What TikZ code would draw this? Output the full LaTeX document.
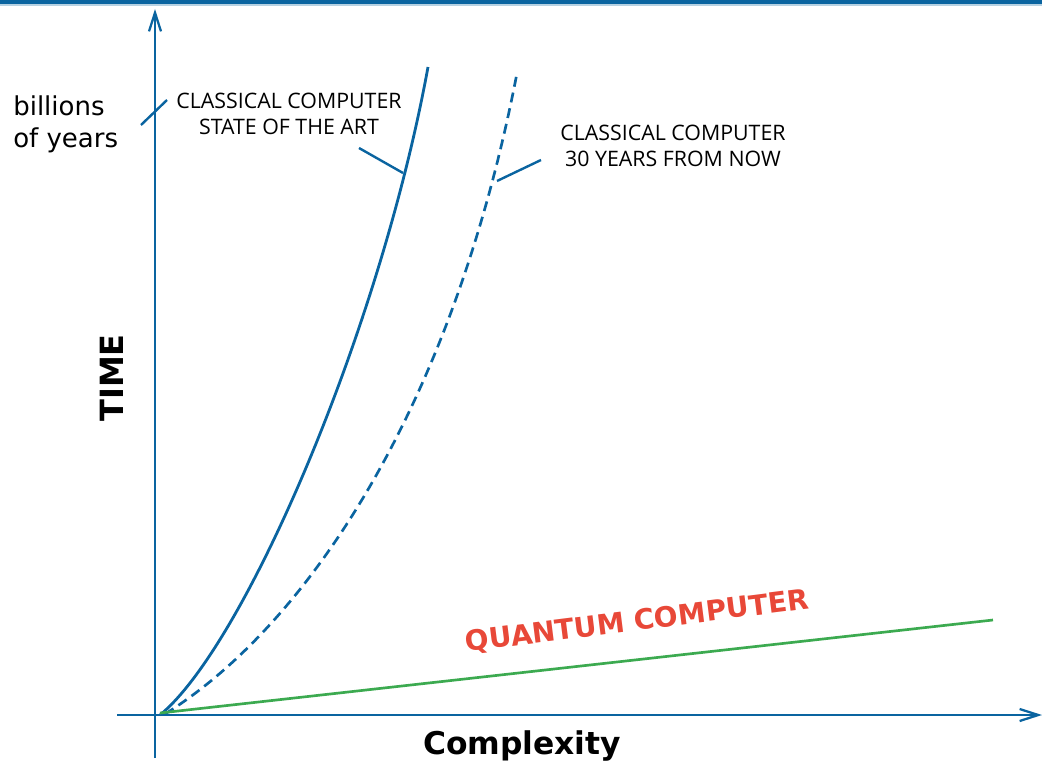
\documentclass[tikz,border=0pt]{standalone}
\usepackage{fontspec}
\setmainfont{DejaVu Sans}
\newfontfamily\labelfont{Open Sans}
\usetikzlibrary{arrows.meta}
\definecolor{axisblue}{RGB}{10,100,160}
\definecolor{qgreen}{RGB}{60,170,80}
\definecolor{qred}{RGB}{232,72,56}
\tikzset{
  axis/.style={draw=axisblue, line width=2pt, -{Straight Barb[length=14pt,width=9pt,line width=1.7pt]}},
  curve/.style={draw=axisblue, line width=2.1pt},
  leader/.style={draw=axisblue, line width=1.8pt},
  smalllabel/.style={font=\labelfont\fontsize{16}{19.5}\selectfont, align=center, text=black, inner sep=0pt},
}
\begin{document}
\begin{tikzpicture}[x=0.75pt,y=-0.75pt]
\useasboundingbox (0,0) rectangle (1042,763);
% top rule
\draw[axisblue, line width=2.6pt] (0,2) -- (1042,2);
\draw[axisblue!30, line width=0.8pt] (0,5) -- (1042,5);
% axes
\coordinate (ybot) at (155,758);
\coordinate (ytop) at (155,9);
\coordinate (xl) at (117,715);
\coordinate (xr) at (1042,715);
\draw[axis] (ybot) -- (ytop);
\draw[axis] (xl) -- (xr);
% curves
\coordinate (o1) at (160,715);
\coordinate (s1) at (428,67);
\coordinate (o2) at (165,714);
\coordinate (s2) at (517,73);
\coordinate (o3) at (160,713);
\coordinate (g1) at (993,620);
\draw[curve] (o1) .. controls (245,645) and (380,330) .. (s1);
\draw[curve, line width=2pt, dash pattern=on 7.5pt off 4.5pt] (o2) .. controls (300,630) and (450,420) .. (s2);
\draw[qgreen, line width=2pt] (o3) -- (g1);
% labels
\node[font=\fontsize{19.5}{24}\selectfont, align=left, anchor=north west, inner sep=0pt] (by) at (13,95) {billions\\of years};
\node[smalllabel] (cs) at (289,114) {CLASSICAL COMPUTER\\STATE OF THE ART};
\node[smalllabel] (cf) at (673,146) {CLASSICAL COMPUTER\\30 YEARS FROM NOW};
\node[font=\bfseries\fontsize{24}{28}\selectfont, rotate=90, inner sep=0pt] (time) at (112,378) {TIME};
\node[font=\bfseries\fontsize{23.5}{28}\selectfont, inner sep=0pt] (cx) at (522,746) {Complexity};
\node[font=\bfseries\fontsize{21}{25}\selectfont, text=qred, rotate=7.2, inner sep=0pt] (qc) at (637,622) {QUANTUM COMPUTER};
% leaders
\coordinate (l1a) at (141,125);
\coordinate (l1b) at (167,100);
\coordinate (l2a) at (359,148);
\coordinate (l2b) at (403,173);
\coordinate (l3a) at (497,181);
\coordinate (l3b) at (541,160);
\draw[leader] (l1a) -- (l1b);
\draw[leader] (l2a) -- (l2b);
\draw[leader] (l3a) -- (l3b);
\end{tikzpicture}
\end{document}
